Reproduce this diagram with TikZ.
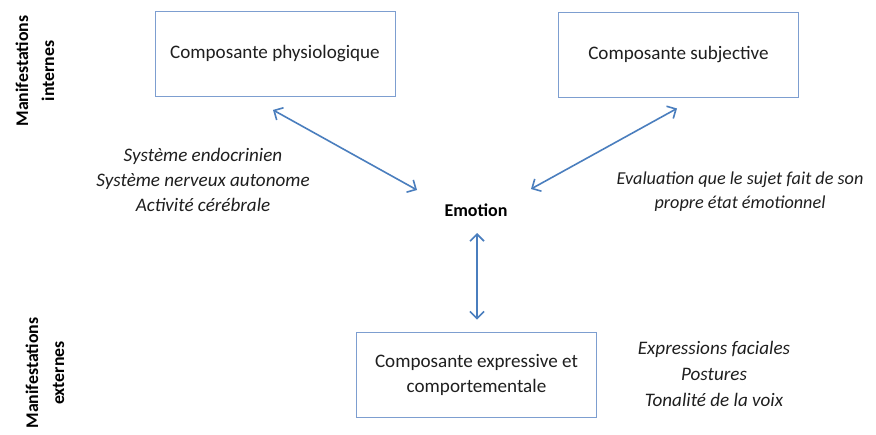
\documentclass[tikz,border=0pt]{standalone}
\usepackage{fontspec}
\setmainfont{Carlito}
\usetikzlibrary{arrows.meta}
\definecolor{boxblue}{RGB}{125,158,208}
\definecolor{arrblue}{RGB}{74,126,190}
\tikzset{
  compbox/.style={draw=boxblue, line width=0.9pt, minimum width=240pt, minimum height=85pt, align=center, inner sep=0pt, font=\fontsize{19.1}{25}\selectfont, text=black!88},
  arr/.style={draw=arrblue, line width=1.6pt, {Straight Barb[length=7pt,width=14pt]}-{Straight Barb[length=7pt,width=14pt]}},
  itxt/.style={align=center, inner sep=0pt, font=\fontsize{19.1}{25}\selectfont\itshape, text=black!88},
  sidelbl/.style={rotate=90, align=center, inner sep=0pt, font=\fontsize{17.8}{26}\selectfont\bfseries}
}
\begin{document}
\begin{tikzpicture}[x=1pt,y=-1pt]
\useasboundingbox[fill=white] (0,0) rectangle (876,434);
\node[compbox] (phys) at (275,54) {Composante physiologique};
\node[compbox] (subj) at (678.5,54.5) {Composante subjective};
\node[compbox] (expr) at (476.5,374.5) {Composante expressive et\\comportementale};
\node[inner sep=0pt, font=\fontsize{18}{22}\selectfont\bfseries] (emo) at (476,210) {Emotion};
\node[itxt] (ltxt) at (203,180) {Système endocrinien\\Système nerveux autonome\\Activité cérébrale};
\node[itxt, font=\fontsize{18.2}{24}\selectfont\itshape] (rtxt) at (740,192) {Evaluation que le sujet fait de son\\propre état émotionnel};
\node[itxt, font=\fontsize{19.1}{26}\selectfont\itshape] (btxt) at (714,374) {Expressions faciales\\Postures\\Tonalité de la voix};
\node[sidelbl] (mint) at (35,71) {Manifestations\\internes};
\node[sidelbl] (mext) at (45,373) {Manifestations\\externes};
\coordinate (a1s) at ([shift={(-2,13)}]phys.south);
\coordinate (a1e) at ([shift={(-59,-20)}]emo.center);
\coordinate (a2s) at ([shift={(-1.5,11)}]subj.south);
\coordinate (a2e) at ([shift={(55,-21)}]emo.center);
\coordinate (a3s) at ([shift={(1,23)}]emo.center);
\coordinate (a3e) at ([shift={(0.5,-12)}]expr.north);
\draw[arr] (a1s) -- (a1e);
\draw[arr] (a2s) -- (a2e);
\draw[arr] (a3s) -- (a3e);
\end{tikzpicture}
\end{document}
